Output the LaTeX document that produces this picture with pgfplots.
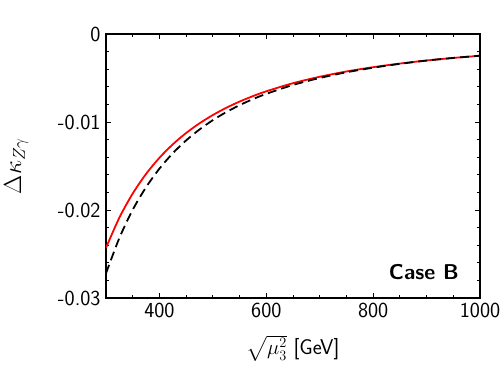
\documentclass[border=0pt]{standalone}
\usepackage{fontspec}
\usepackage{amsmath}
\usepackage{pgfplots}
\pgfplotsset{compat=1.18}
\renewcommand{\familydefault}{\sfdefault}
\definecolor{CurveRed}{HTML}{FF0000}

\begin{document}
\begin{tikzpicture}
\useasboundingbox (-106bp,-80bp) rectangle (398bp,298bp);
\begin{axis}[
  at={(0,0)}, anchor=south west,
  scale only axis,
  width=374bp, height=264bp,
  xmin=300, xmax=1000,
  ymin=-0.03, ymax=0,
  xtick={400,600,800,1000},
  xticklabels={400,600,800,1000},
  minor xtick={300,350,...,1000},
  ytick={-0.03,-0.02,-0.01,0},
  yticklabels={-0.03,-0.02,-0.01,0},
  minor ytick={-0.028,-0.026,-0.024,-0.022,-0.018,-0.016,-0.014,-0.012,-0.008,-0.006,-0.004,-0.002},
  scaled y ticks=false,
  /pgf/number format/assume math mode=true,
  tick align=inside,
  major tick length=5bp,
  minor tick length=3bp,
  tick style={black, line width=0.9pt},
  axis line style={line width=1.1pt},
  tick label style={font=\fontsize{21.5}{25}\selectfont\sffamily},
  xticklabel style={yshift=-2bp},
  yticklabel style={xshift=-2bp},
  xlabel={$\sqrt{\mu_3^2}$ [GeV]},
  ylabel={$\Delta\kappa_{Z\gamma}$},
  xlabel style={font=\fontsize{21.5}{25}\selectfont\sffamily,
    at={(axis description cs:0.5,-0.19)}, anchor=center},
  ylabel style={font=\fontsize{27}{30}\selectfont\sffamily,
    at={(axis description cs:-0.24,0.5)}, anchor=center},
  clip=true,
]
\addplot[CurveRed, line width=1.8pt, smooth] coordinates {
  (300,-0.0243) (325,-0.02087) (350,-0.01813) (375,-0.01590)
  (400,-0.01407) (425,-0.01254) (450,-0.01125) (475,-0.01015)
  (500,-0.00921) (525,-0.00839) (550,-0.00768) (575,-0.00706)
  (600,-0.00651) (650,-0.00559) (700,-0.00486) (750,-0.00426)
  (800,-0.00377) (850,-0.00336) (900,-0.00301) (950,-0.00272)
  (1000,-0.00247)
};
\addplot[black, line width=1.8pt, dash pattern=on 9bp off 5bp, smooth] coordinates {
  (300,-0.0272) (325,-0.02318) (350,-0.01998) (375,-0.01741)
  (400,-0.01530) (425,-0.01355) (450,-0.01209) (475,-0.01085)
  (500,-0.00979) (525,-0.00888) (550,-0.00809) (575,-0.00740)
  (600,-0.00680) (650,-0.00579) (700,-0.00500) (750,-0.00435)
  (800,-0.00383) (850,-0.00339) (900,-0.00302) (950,-0.00272)
  (1000,-0.00247)
};
\node[anchor=base east, font=\fontsize{21.5}{25}\selectfont\sffamily\bfseries]
  at (axis cs:967,-0.02795) {Case B};
\end{axis}
\end{tikzpicture}
\end{document}
